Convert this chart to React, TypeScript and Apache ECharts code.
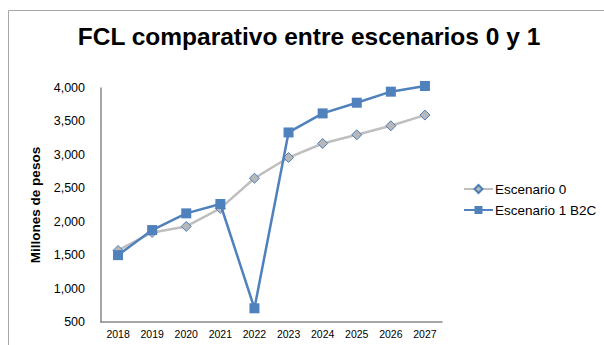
import React, { useEffect, useRef } from "react";
import * as echarts from "echarts";

const years = ["2018", "2019", "2020", "2021", "2022", "2023", "2024", "2025", "2026", "2027"];
const escenario0 = [1570, 1840, 1930, 2200, 2650, 2960, 3170, 3300, 3435, 3595];
const escenario1 = [1500, 1875, 2125, 2265, 705, 3335, 3620, 3780, 3945, 4030];
const yTicks = { min: 500, max: 4000, interval: 500 };

export default function App() {
  const ref = useRef<HTMLDivElement>(null);
  useEffect(() => {
    if (!ref.current) return;
    const chart = echarts.init(ref.current, null, { renderer: "svg" });
    const font = "'Liberation Sans', Arial, sans-serif";
    chart.setOption({
      animation: false,
      textStyle: { fontFamily: font },
      graphic: [
        {
          type: "rect",
          shape: { x: 8.5, y: 10.5, width: 640, height: 400 },
          style: { fill: "none", stroke: "#a6a6a6", lineWidth: 1 },
          silent: true,
        },
      ],
      title: {
        text: "FCL comparativo entre escenarios 0 y 1",
        left: 309,
        textAlign: "center",
        top: 24,
        padding: 0,
        textStyle: { fontFamily: font, fontSize: 24.5, fontWeight: "bold", color: "#000" },
      },
      grid: { left: 101, right: 162, top: 88, bottom: 23 },
      legend: {
        orient: "vertical",
        left: 463,
        top: 182,
        padding: 0,
        itemWidth: 29,
        itemHeight: 10,
        itemGap: 7,
        textStyle: { fontFamily: font, fontSize: 13.5, color: "#000", padding: [0, 0, 0, -3] },
        data: ["Escenario 0", "Escenario 1 B2C"],
      },
      xAxis: {
        type: "category",
        data: years,
        boundaryGap: true,
        axisLine: { lineStyle: { color: "#888", width: 1.5 } },
        axisTick: { show: false },
        axisLabel: { color: "#000", fontSize: 10.5, margin: 6, fontFamily: font },
      },
      yAxis: {
        type: "value",
        min: yTicks.min,
        max: yTicks.max,
        interval: yTicks.interval,
        name: "Millones de pesos",
        nameLocation: "middle",
        nameGap: 57,
        nameTextStyle: { fontFamily: font, fontSize: 13.5, fontWeight: "bold", color: "#000" },
        axisLine: { show: true, lineStyle: { color: "#888", width: 1.5 } },
        axisTick: { show: false },
        splitLine: { show: false },
        axisLabel: {
          color: "#000",
          fontSize: 12.5,
          margin: 16,
          fontFamily: font,
          formatter: (v: number) => v.toLocaleString("en-US"),
        },
      },
      series: [
        {
          name: "Escenario 0",
          type: "line",
          data: escenario0,
          clip: false,
          symbol: "diamond",
          symbolSize: 10,
          lineStyle: { color: "#bfbfbf", width: 2.5 },
          itemStyle: { color: "#b8b8b8", borderColor: "#4a7ebb", borderWidth: 1 },
          z: 2,
        },
        {
          name: "Escenario 1 B2C",
          type: "line",
          data: escenario1,
          clip: false,
          symbol: "rect",
          symbolSize: 10,
          lineStyle: { color: "#4f81bd", width: 2.5 },
          itemStyle: { color: "#4f81bd" },
          z: 3,
        },
      ],
    });
    return () => chart.dispose();
  }, []);
  return (
    <div
      ref={ref}
      style={{ position: "fixed", left: 0, top: 0, width: 604, height: 345, background: "#fff" }}
    />
  );
}
